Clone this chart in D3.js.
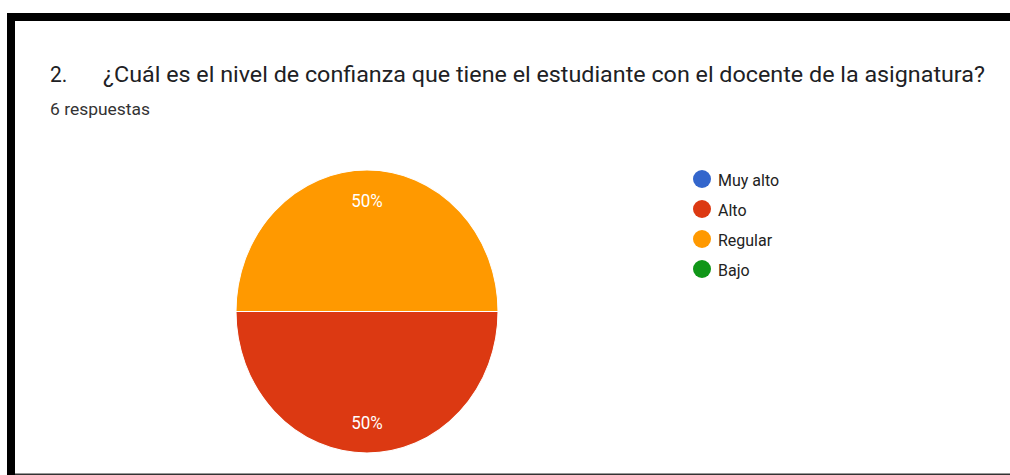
<!DOCTYPE html>
<html><head><meta charset="utf-8">
<script src="https://cdn.jsdelivr.net/npm/d3@7"></script>
<style>html,body{margin:0;padding:0;background:#fff;}svg{display:block;}</style>
</head><body>
<svg id="c" width="1010" height="475"></svg>
<script>
const categories = ["Muy alto", "Alto", "Regular", "Bajo"];
const counts = [0, 3, 3, 0];
const colors = ["#3366cc", "#dc3912", "#ff9900", "#109618"];
const titleNum = "2.";
const titleText = "¿Cuál es el nivel de confianza que tiene el estudiante con el docente de la asignatura?";
const subtitle = "6 respuestas";

const svg = d3.select("#c");
const sy = 1.08;
// frame
svg.append("rect").attr("x",0).attr("y",0).attr("width",1010).attr("height",475).attr("fill","#fff");
svg.append("rect").attr("x",7).attr("y",13).attr("width",1003).attr("height",8).attr("fill","#000");
svg.append("rect").attr("x",7).attr("y",13).attr("width",8).attr("height",462).attr("fill","#000");
svg.append("rect").attr("x",15).attr("y",473.5).attr("width",995).attr("height",1.5).attr("fill","#333");

const font = "Roboto, Arial, sans-serif";
function txt(x, y, s, size, fill, anchor, len){
  const t = svg.append("text").attr("transform",`translate(${x},${y}) scale(1,${sy})`)
    .attr("font-family",font).attr("font-size",size).attr("fill",fill)
    .attr("text-anchor",anchor||"start").text(s);
  if(len){ t.attr("textLength",len).attr("lengthAdjust","spacingAndGlyphs"); }
  return t;
}
txt(50, 82, titleNum, 21, "#202124");
txt(103, 82, titleText, 21, "#202124", "start", 882);
txt(50, 115, subtitle, 16, "#333", "start", 100);

// pie
const cx = 367, cy = 311.5, r = 131;
const color = d3.scaleOrdinal().domain(categories).range(colors);
const data = categories.map((c,i)=>({cat:c, v:counts[i]}));
const pie = d3.pie().value(d=>d.v).sort(null).startAngle(Math.PI/2).endAngle(Math.PI/2 + 2*Math.PI);
const arcs = pie(data).filter(d=>d.data.v>0);
const arc = d3.arc().innerRadius(0).outerRadius(r);
const lr = r*0.785;
const labelArc = d3.arc().innerRadius(lr).outerRadius(lr);
const total = d3.sum(counts);
const g = svg.append("g").attr("transform",`translate(${cx},${cy}) scale(1,${sy})`);
g.selectAll("path").data(arcs).join("path")
  .attr("d",arc).attr("fill",d=>color(d.data.cat)).attr("stroke","#fff").attr("stroke-width",1);
arcs.forEach(d=>{
  const [x,y] = labelArc.centroid(d);
  txt(cx + x, cy + y*sy + 6.5, d3.format(".0%")(d.data.v/total), 17, "#fff", "middle");
});

// legend
const lx = 702, ly0 = 179, step = 30;
categories.forEach((c,i)=>{
  const y = ly0 + i*step;
  svg.append("circle").attr("cx",lx).attr("cy",y).attr("r",9).attr("fill",color(c));
  txt(718, y+7, c, 16, "#222");
});
</script>
</body></html>
